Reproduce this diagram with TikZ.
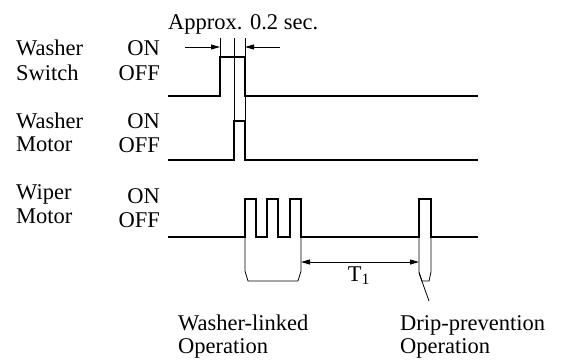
\documentclass[tikz,border=0pt]{standalone}
\usepackage{fontspec}
\setmainfont{Liberation Serif}
\usepackage{tikz}
\usetikzlibrary{arrows.meta,positioning}
\tikzset{
  sig/.style={line width=2pt,line join=miter},
  guide/.style={line width=0.8pt},
  dim/.style={line width=0.8pt,-{Triangle[length=9pt,width=5pt]}},
  lbl/.style={font=\fontsize{22.5}{25}\selectfont,inner sep=0pt}
}

\begin{document}
\begin{tikzpicture}[x=1pt,y=-1pt]
\useasboundingbox (0,0) rectangle (565,359);
% row labels
\node[lbl,anchor=base west] (swa) at (16,55) {Washer};
\node[lbl,anchor=base west] (swb) at (16,80) {Switch};
\node[lbl,anchor=base east] (swon) at (160,55) {ON};
\node[lbl,anchor=base east] (swoff) at (160,80) {OFF};
\node[lbl,anchor=base west] (wma) at (16,128) {Washer};
\node[lbl,anchor=base west] (wmb) at (16,151) {Motor};
\node[lbl,anchor=base east] (wmon) at (160,128) {ON};
\node[lbl,anchor=base east] (wmoff) at (160,152) {OFF};
\node[lbl,anchor=base west] (wpa) at (16,199) {Wiper};
\node[lbl,anchor=base west] (wpb) at (16,223) {Motor};
\node[lbl,anchor=base east] (wpon) at (160,203) {ON};
\node[lbl,anchor=base east] (wpoff) at (160,227) {OFF};
\node[lbl,anchor=base west] (approx) at (168,29) {Approx. 0.2 sec.};
% signals
\draw[sig] (168,96) -- (220,96) -- (220,57) -- (245,57) -- (245,96) -- (478,96);
\draw[sig] (168,160) -- (234,160) -- (234,121) -- (245,121) -- (245,160) -- (478,160);
\draw[sig] (168,237) -- (245,237) -- (245,199) -- (256,199) -- (256,237)
  -- (267,237) -- (267,199) -- (278,199) -- (278,237) -- (290,237)
  -- (290,199) -- (301,199) -- (301,237) -- (419,237) -- (419,199)
  -- (431,199) -- (431,237) -- (478,237);
% 0.2 sec guides
\coordinate (ga) at (220,47);
\coordinate (gb) at (245,47);
\draw[guide] (220,38) -- (220,57);
\draw[guide] (234,38) -- (234,121);
\draw[guide] (245,38) -- (245,121);
\coordinate (aa) at (185,47);
\coordinate (ab) at (280,47);
\draw[dim] (aa) -- (ga);
\draw[dim] (ab) -- (gb);
% operation brackets
\draw[guide] (245,237) -- (245,271) -- (248,281) -- (298,281) -- (301,271) -- (301,237);
\draw[guide] (419,237) -- (419,272) -- (422,281) -- (429,281) -- (431,272) -- (431,237);
\coordinate (ta) at (301,262);
\coordinate (tb) at (419,262);
\draw[dim,{Triangle[length=9pt,width=5pt]}-{Triangle[length=9pt,width=5pt]}] (ta) -- (tb);
\node[lbl,anchor=base] (tone) at (359,281) {T\textsubscript{1}};
% bottom labels
\node[lbl,anchor=base west] (wla) at (178,330) {Washer-linked};
\node[lbl,anchor=base west] (wlb) at (178,353) {Operation};
\node[lbl,anchor=base west] (dpa) at (400,330) {Drip-prevention};
\node[lbl,anchor=base west] (dpb) at (400,353) {Operation};
\coordinate (la) at (419,273);
\coordinate (lb) at (429,301);
\draw[guide] (la) -- (lb);
\end{tikzpicture}
\end{document}
